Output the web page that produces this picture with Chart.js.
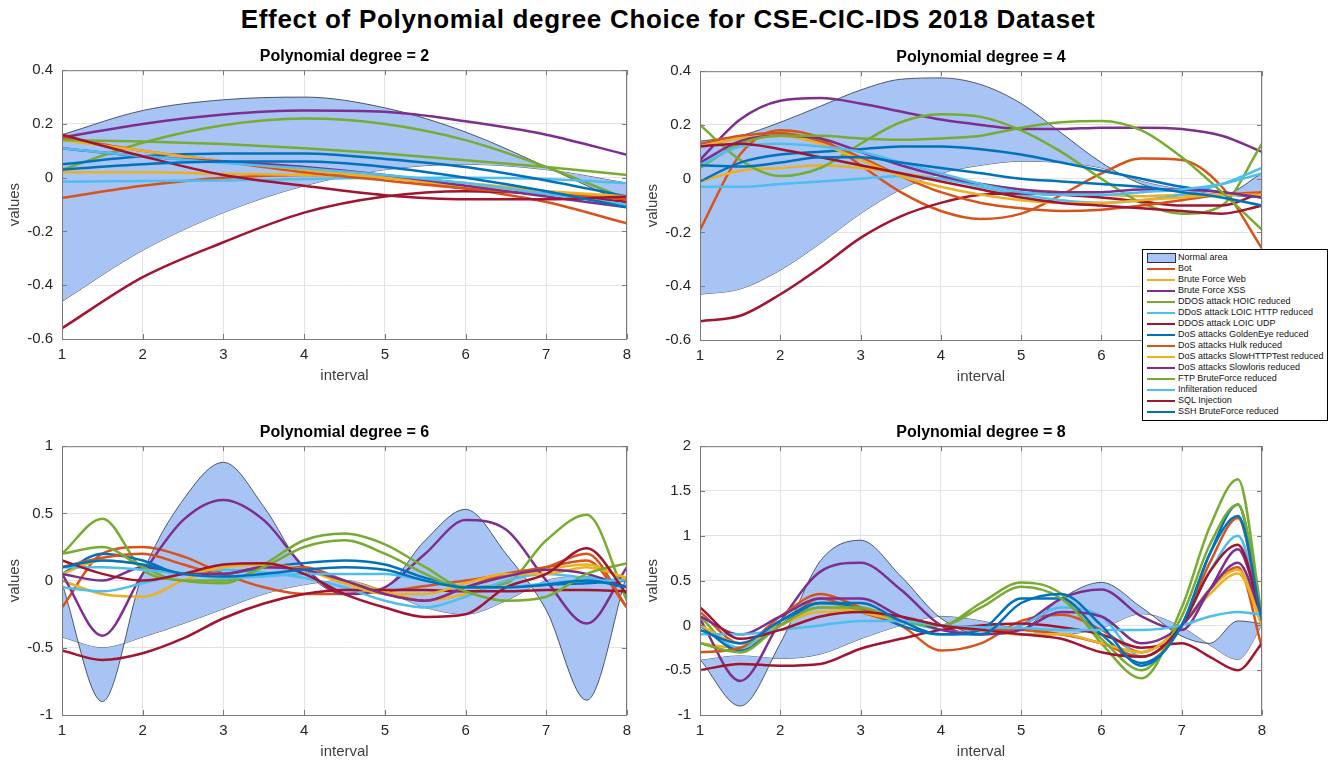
<!DOCTYPE html>
<html>

<head>
    <title>Polynomial degree choice</title>
    <script src="https://cdn.jsdelivr.net/npm/chart.js"></script>
    <style>
        body { margin: 0; width: 1336px; height: 762px; background: #fff; position: relative; overflow: hidden; font-family: "Liberation Sans", Arial, sans-serif; }
        #mainTitle { position: absolute; left: 0; top: 4px; width: 1336px; line-height: 30px; text-align: center; font-weight: bold; font-size: 26px; letter-spacing: 0.7px; color: #000; }
        canvas { position: absolute; }
        #legend { position: absolute; left: 1142px; top: 249px; width: 184px; height: 168px; border: 1.5px solid #000; background: #fff; padding-top: 2px; z-index: 5; }
        .row { height: 11px; line-height: 11px; font-size: 9px; color: #111; white-space: nowrap; position: relative; }
        .row span.s { position: absolute; left: 4px; top: 5px; width: 28px; height: 2px; }
        .row span.t { position: absolute; left: 35px; top: 0; }
        .row span.box { position: absolute; left: 4px; top: 1px; width: 27px; height: 8px; background: rgb(168,196,245); border: 0.8px solid #2b3445; }
    </style>
</head>

<body>
    <div id="mainTitle">Effect of Polynomial degree Choice for CSE-CIC-IDS 2018 Dataset</div>
    <canvas id="p2" width="640" height="343" style="left:0;top:42px"></canvas>
    <canvas id="p4" width="696" height="343" style="left:640px;top:43px"></canvas>
    <canvas id="p6" width="640" height="343" style="left:0;top:418px"></canvas>
    <canvas id="p8" width="696" height="343" style="left:640px;top:418px"></canvas>
    <div id="legend"></div>

    <script>
        // series names (legend order)
        const seriesNames = ['Bot', 'Brute Force Web', 'Brute Force XSS', 'DDOS attack HOIC reduced',
            'DDoS attack LOIC HTTP reduced', 'DDOS attack LOIC UDP', 'DoS attacks GoldenEye reduced',
            'DoS attacks Hulk reduced', 'DoS attacks SlowHTTPTest reduced', 'DoS attacks Slowloris reduced',
            'FTP BruteForce reduced', 'Infilteration reduced', 'SQL Injection', 'SSH BruteForce reduced'];

        // x positions (interval)
        const xs2 = [1, 2, 3, 4, 5, 6, 7, 8];
        const xs4 = [1, 1.5, 2, 2.5, 3, 3.5, 4, 4.5, 5, 5.5, 6, 6.5, 7, 7.5, 8];
        const xs6 = [1, 1.5, 2, 2.5, 3, 3.5, 4, 4.5, 5, 5.5, 6, 6.5, 7, 7.5, 8];
        const xs8 = [1, 1.5, 2, 2.5, 3, 3.5, 4, 4.5, 5, 5.5, 6, 6.5, 7, 7.35, 7.7, 8];

        // degree 2
        const band2Upper = [0.16, 0.25, 0.29, 0.30, 0.26, 0.17, 0.04, -0.10];
        const band2Lower = [-0.46, -0.27, -0.13, -0.03, 0.03, 0.05, 0.03, -0.02];
        const lines2 = [
            [-0.075, -0.03, 0.0, 0.01, 0.0, -0.04, -0.09, -0.17],
            [0.02, 0.02, 0.015, 0.01, 0.0, -0.02, -0.05, -0.08],
            [0.15, 0.20, 0.235, 0.25, 0.245, 0.21, 0.16, 0.085],
            [0.03, 0.13, 0.195, 0.22, 0.20, 0.14, 0.04, -0.08],
            [-0.015, -0.012, -0.01, -0.005, 0.0, 0.0, -0.005, -0.02],
            [-0.56, -0.37, -0.24, -0.13, -0.07, -0.05, -0.06, -0.09],
            [0.05, 0.08, 0.09, 0.09, 0.07, 0.04, -0.01, -0.07],
            [0.15, 0.10, 0.06, 0.02, -0.01, -0.04, -0.06, -0.08],
            [0.14, 0.10, 0.06, 0.03, 0.0, -0.03, -0.05, -0.07],
            [0.11, 0.08, 0.06, 0.04, 0.01, -0.03, -0.07, -0.11],
            [0.14, 0.135, 0.125, 0.11, 0.09, 0.065, 0.04, 0.01],
            [0.11, 0.08, 0.055, 0.035, 0.01, -0.02, -0.06, -0.10],
            [0.16, 0.08, 0.01, -0.03, -0.065, -0.08, -0.08, -0.07],
            [0.03, 0.05, 0.06, 0.06, 0.04, 0.0, -0.05, -0.11]
        ];

        // degree 4
        const band4Upper = [0.14, 0.16, 0.21, 0.27, 0.33, 0.37, 0.375, 0.35, 0.28, 0.17, 0.06, -0.02, -0.05, -0.06, 0.02];
        const band4Lower = [-0.43, -0.41, -0.34, -0.24, -0.13, -0.04, 0.02, 0.05, 0.065, 0.06, 0.04, -0.01, -0.04, -0.06, -0.07];
        const lines4 = [
            [-0.19, 0.09, 0.18, 0.15, 0.05, -0.05, -0.12, -0.15, -0.13, -0.06, 0.02, 0.075, 0.07, -0.03, -0.26],
            [-0.01, 0.03, 0.04, 0.05, 0.04, 0.02, 0.0, -0.02, -0.04, -0.05, -0.06, -0.065, -0.06, -0.06, -0.06],
            [0.07, 0.22, 0.29, 0.30, 0.28, 0.25, 0.22, 0.20, 0.185, 0.185, 0.19, 0.19, 0.185, 0.16, 0.10],
            [0.20, 0.07, 0.01, 0.04, 0.13, 0.21, 0.24, 0.23, 0.18, 0.10, 0.0, -0.09, -0.13, -0.10, 0.13],
            [-0.03, -0.03, -0.02, -0.01, 0.0, 0.01, 0.0, -0.03, -0.06, -0.08, -0.09, -0.08, -0.06, -0.02, 0.04],
            [-0.53, -0.51, -0.43, -0.33, -0.22, -0.14, -0.09, -0.06, -0.055, -0.06, -0.07, -0.085, -0.10, -0.10, -0.05],
            [-0.01, 0.06, 0.09, 0.10, 0.11, 0.12, 0.12, 0.11, 0.09, 0.06, 0.03, 0.0, -0.03, -0.05, -0.07],
            [0.13, 0.16, 0.17, 0.14, 0.08, 0.01, -0.05, -0.09, -0.11, -0.12, -0.115, -0.10, -0.08, -0.06, -0.05],
            [0.12, 0.15, 0.16, 0.13, 0.07, 0.01, -0.03, -0.06, -0.08, -0.09, -0.09, -0.08, -0.07, -0.06, -0.06],
            [0.06, 0.14, 0.16, 0.15, 0.10, 0.05, 0.01, -0.02, -0.04, -0.05, -0.05, -0.04, -0.04, -0.05, -0.07],
            [0.04, 0.13, 0.16, 0.16, 0.15, 0.145, 0.15, 0.16, 0.19, 0.21, 0.215, 0.18, 0.08, -0.05, -0.19],
            [0.05, 0.12, 0.13, 0.12, 0.10, 0.06, 0.02, -0.02, -0.05, -0.06, -0.06, -0.05, -0.04, -0.02, 0.02],
            [0.12, 0.13, 0.11, 0.08, 0.05, 0.02, -0.01, -0.04, -0.07, -0.09, -0.10, -0.11, -0.12, -0.13, -0.10],
            [0.05, 0.045, 0.06, 0.08, 0.08, 0.06, 0.04, 0.02, 0.0, -0.01, -0.02, -0.03, -0.05, -0.07, -0.10]
        ];

        // degree 6
        const band6Upper = [-0.02, -0.90, 0.05, 0.60, 0.88, 0.55, 0.08, -0.10, -0.05, 0.30, 0.53, 0.20, -0.22, -0.89, 0.05];
        const band6Lower = [-0.42, -0.50, -0.42, -0.32, -0.21, -0.10, -0.03, 0.0, -0.08, -0.20, -0.25, -0.15, 0.0, 0.03, -0.05];
        const lines6 = [
            [-0.20, 0.20, 0.25, 0.18, 0.05, -0.05, -0.10, -0.10, -0.08, -0.04, 0.0, 0.05, 0.10, 0.15, -0.20],
            [0.0, -0.10, -0.12, 0.0, 0.10, 0.12, 0.08, 0.0, -0.08, -0.15, -0.10, 0.0, 0.08, 0.12, 0.0],
            [0.05, -0.41, 0.05, 0.45, 0.60, 0.45, 0.10, -0.10, -0.05, 0.20, 0.45, 0.38, 0.0, -0.32, 0.10],
            [0.20, 0.46, 0.08, 0.0, -0.02, 0.12, 0.30, 0.35, 0.27, 0.10, -0.05, -0.02, 0.30, 0.49, -0.15],
            [-0.05, -0.08, -0.02, 0.05, 0.08, 0.06, 0.02, -0.05, -0.15, -0.20, -0.12, 0.0, 0.05, 0.02, 0.0],
            [-0.52, -0.59, -0.54, -0.43, -0.28, -0.17, -0.10, -0.07, -0.07, -0.07, -0.08, -0.08, -0.07, -0.07, -0.08],
            [0.05, 0.20, 0.15, 0.05, 0.05, 0.10, 0.13, 0.15, 0.12, 0.02, -0.05, -0.05, -0.03, -0.02, 0.0],
            [0.10, 0.17, 0.20, 0.12, 0.05, 0.10, 0.10, 0.0, -0.10, -0.15, -0.05, 0.05, 0.10, 0.20, -0.20],
            [0.05, 0.15, 0.12, 0.05, 0.10, 0.12, 0.08, -0.02, -0.10, -0.10, -0.02, 0.05, 0.05, 0.10, 0.02],
            [0.05, 0.0, 0.10, 0.05, 0.05, 0.10, 0.08, 0.0, -0.10, -0.15, -0.05, 0.03, 0.08, 0.05, -0.05],
            [0.20, 0.25, 0.10, 0.0, 0.0, 0.10, 0.25, 0.30, 0.20, 0.05, -0.08, -0.15, -0.12, 0.05, 0.13],
            [0.10, 0.10, 0.08, 0.05, 0.02, 0.03, 0.05, 0.05, 0.05, 0.0, -0.05, -0.05, -0.02, 0.0, 0.0],
            [0.15, 0.05, 0.0, 0.05, 0.12, 0.13, 0.05, -0.10, -0.20, -0.27, -0.25, -0.05, 0.05, 0.24, -0.10],
            [0.10, 0.15, 0.12, 0.05, 0.03, 0.05, 0.08, 0.10, 0.08, 0.0, -0.05, -0.05, -0.03, 0.0, -0.05]
        ];

        // degree 8
        const band8Upper = [-0.38, -0.90, -0.20, 0.72, 0.95, 0.55, 0.08, -0.10, -0.05, 0.30, 0.48, 0.20, -0.12, -0.20, 0.05, 0.02];
        const band8Lower = [-0.39, -0.34, -0.37, -0.32, -0.15, 0.0, 0.10, 0.05, -0.05, -0.10, -0.03, 0.13, -0.02, -0.22, -0.38, 0.0];
        const lines8 = [
            [0.15, -0.20, 0.0, 0.30, 0.15, 0.0, -0.28, -0.20, 0.05, 0.12, -0.05, -0.30, 0.0, 0.40, 0.65, -0.25],
            [-0.20, -0.25, 0.0, 0.15, 0.15, 0.05, 0.0, -0.05, -0.10, -0.10, -0.20, -0.30, 0.0, 0.35, 0.58, 0.0],
            [0.07, -0.62, 0.04, 0.60, 0.70, 0.40, 0.0, -0.10, 0.0, 0.30, 0.40, 0.10, -0.05, 0.40, 0.85, 0.10],
            [0.10, -0.30, 0.05, 0.25, 0.18, 0.05, 0.0, 0.25, 0.48, 0.35, -0.20, -0.59, 0.20, 1.10, 1.63, 0.10],
            [0.0, -0.25, 0.05, 0.20, 0.15, 0.05, -0.05, -0.10, 0.0, 0.20, 0.10, -0.35, 0.0, 0.60, 1.00, 0.10],
            [-0.50, -0.43, -0.45, -0.43, -0.26, -0.15, -0.05, 0.0, 0.02, -0.02, -0.10, -0.25, -0.20, -0.35, -0.50, -0.20],
            [0.0, -0.28, 0.0, 0.25, 0.20, 0.0, -0.10, -0.05, 0.30, 0.30, -0.10, -0.42, 0.0, 0.80, 1.35, 0.05],
            [-0.30, -0.25, 0.10, 0.35, 0.20, 0.05, 0.0, -0.05, -0.05, -0.10, -0.20, -0.35, 0.0, 0.70, 1.20, 0.05],
            [0.0, -0.20, 0.0, 0.20, 0.15, 0.05, 0.0, -0.05, -0.10, -0.10, -0.20, -0.30, 0.0, 0.40, 0.62, 0.05],
            [0.10, -0.10, 0.10, 0.30, 0.30, 0.10, -0.05, -0.10, -0.05, 0.15, 0.10, -0.20, 0.0, 0.40, 0.70, 0.10],
            [-0.20, -0.30, 0.0, 0.20, 0.20, 0.05, 0.0, 0.20, 0.43, 0.30, -0.15, -0.50, 0.10, 0.90, 1.35, 0.10],
            [-0.10, -0.10, -0.05, 0.0, 0.05, 0.05, 0.0, -0.02, -0.03, -0.05, -0.05, -0.05, 0.0, 0.10, 0.15, 0.12],
            [0.20, -0.15, -0.05, 0.10, 0.15, 0.10, 0.0, -0.05, -0.10, -0.15, -0.30, -0.35, 0.0, 0.60, 0.90, 0.10],
            [-0.05, -0.20, 0.05, 0.25, 0.25, 0.05, -0.10, -0.10, 0.25, 0.35, 0.0, -0.45, 0.0, 0.80, 1.22, 0.05]
        ];

        // MATLAB default line colours
        const seriesColors = ['#D95319', '#EDB120', '#7E2F8E', '#77AC30', '#4DBEEE', '#A2142F', '#0072BD',
            '#D95319', '#EDB120', '#7E2F8E', '#77AC30', '#4DBEEE', '#A2142F', '#0072BD'];
        const bandFill = 'rgb(168,196,245)';
        const bandEdge = '#2b3445';
        const fontFam = '"Liberation Sans", Arial, sans-serif';

        // axes box with inward tick marks, like MATLAB
        const boxPlugin = {
            id: 'box',
            afterDraw(chart) {
                const a = chart.chartArea, c = chart.ctx;
                const sx = chart.scales.x, sy = chart.scales.y;
                c.save();
                c.strokeStyle = '#7a7a7a';
                c.lineWidth = 1;
                c.strokeRect(a.left + 0.5, a.top + 0.5, a.right - a.left - 1, a.bottom - a.top);
                c.beginPath();
                sx.ticks.forEach(t => {
                    const px = Math.round(sx.getPixelForValue(t.value)) + 0.5;
                    c.moveTo(px, a.bottom); c.lineTo(px, a.bottom - 5);
                    c.moveTo(px, a.top); c.lineTo(px, a.top + 5);
                });
                sy.ticks.forEach(t => {
                    const py = Math.round(sy.getPixelForValue(t.value)) + 0.5;
                    c.moveTo(a.left, py); c.lineTo(a.left + 5, py);
                    c.moveTo(a.right, py); c.lineTo(a.right - 5, py);
                });
                c.stroke();
                c.restore();
            }
        };

        function pts(xs, ys) {
            return xs.map((x, i) => ({ x: x, y: ys[i] }));
        }

        function makePanel(id, deg, xs, upper, lower, lines, yMin, yMax, yStep, yW, yTitlePad, rightPad) {
            const datasets = [
                { label: 'Normal area', data: pts(xs, upper), borderColor: bandEdge, borderWidth: 0.8,
                  backgroundColor: bandFill, fill: '+1', order: 100 },
                { label: 'lower', data: pts(xs, lower), borderColor: bandEdge, borderWidth: 0.8,
                  backgroundColor: bandFill, fill: false, order: 100 }
            ];
            lines.forEach((ys, i) => {
                datasets.push({ label: seriesNames[i], data: pts(xs, ys), borderColor: seriesColors[i],
                    borderWidth: 2.5, fill: false, order: 50 - i });
            });
            return new Chart(document.getElementById(id), {
                type: 'line',
                data: { datasets: datasets },
                plugins: [boxPlugin],
                options: {
                    responsive: false,
                    animation: false,
                    devicePixelRatio: 1,
                    layout: { padding: { left: 0, right: rightPad, top: 0, bottom: 0 } },
                    elements: { point: { radius: 0 }, line: { cubicInterpolationMode: 'monotone' } },
                    plugins: {
                        legend: { display: false },
                        tooltip: { enabled: false },
                        title: { display: true, fullSize: false, text: 'Polynomial degree = ' + deg, color: '#000',
                            font: { family: fontFam, size: 16, weight: 'bold', lineHeight: 1.2 },
                            padding: { top: 5, bottom: 4 } }
                    },
                    scales: {
                        x: {
                            type: 'linear', min: 1, max: 8,
                            afterFit(s) { s.height = 46; },
                            grid: { color: '#e3e3e3', drawTicks: false },
                            border: { display: false },
                            ticks: { stepSize: 1, padding: 7, color: '#262626', font: { family: fontFam, size: 15 } },
                            title: { display: true, text: 'interval', color: '#404040', padding: 0,
                                font: { family: fontFam, size: 15 } }
                        },
                        y: {
                            min: yMin, max: yMax,
                            afterFit(s) { s.width = yW; },
                            grid: { color: '#e3e3e3', drawTicks: false },
                            border: { display: false },
                            ticks: { stepSize: yStep, padding: 9, color: '#262626', font: { family: fontFam, size: 15 },
                                callback: v => String(Math.round(v * 100) / 100) },
                            title: { display: true, text: 'values', color: '#404040', padding: { top: yTitlePad, bottom: 0 },
                                font: { family: fontFam, size: 15 } }
                        }
                    }
                }
            });
        }

        makePanel('p2', 2, xs2, band2Upper, band2Lower, lines2, -0.6, 0.4, 0.2, 62, 6, 13);
        makePanel('p4', 4, xs4, band4Upper, band4Lower, lines4, -0.6, 0.4, 0.2, 60, 4, 74);
        makePanel('p6', 6, xs6, band6Upper, band6Lower, lines6, -1, 1, 0.5, 62, 6, 13);
        makePanel('p8', 8, xs8, band8Upper, band8Lower, lines8, -1, 2, 0.5, 60, 4, 74);

        // legend box
        const leg = document.getElementById('legend');
        let html = '<div class="row"><span class="box"></span><span class="t">Normal area</span></div>';
        seriesNames.forEach((n, i) => {
            html += '<div class="row"><span class="s" style="background:' + seriesColors[i] + '"></span><span class="t">' + n + '</span></div>';
        });
        leg.innerHTML = html;
    </script>

</body>

</html>
